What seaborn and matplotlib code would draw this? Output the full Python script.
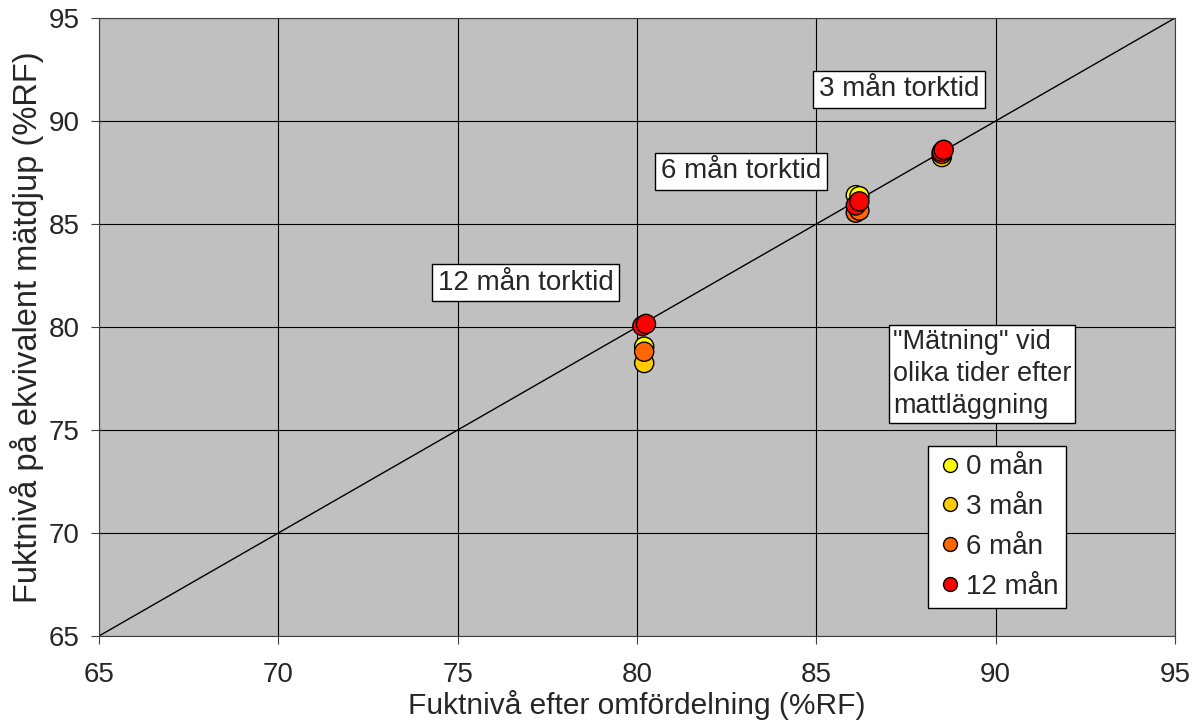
import numpy as np
import pandas as pd
import matplotlib.pyplot as plt
import seaborn as sns

# ============================================================
# DATA
# ============================================================
series_names = ['0 mån', '3 mån', '6 mån', '12 mån']
series_colors = ['#FFFF00', '#FFCC00', '#FF6600', '#FF0000']

x_0 = [80.2, 86.1, 86.2, 88.5]
y_0 = [79.05, 86.4, 86.35, 88.45]
x_3 = [80.2, 86.15, 88.5]
y_3 = [78.25, 86.0, 88.25]
x_6 = [80.2, 86.1, 86.2, 88.5]
y_6 = [78.8, 85.55, 85.65, 88.4]
x_12 = [80.15, 80.25, 86.1, 86.2, 88.5, 88.55]
y_12 = [80.05, 80.15, 85.9, 86.1, 88.5, 88.6]

labels = ['3 mån torktid', '6 mån torktid', '12 mån torktid']
label_x = [87.3, 82.9, 76.9]
label_y = [91.55, 87.57, 82.14]

df = pd.concat([
    pd.DataFrame({'x': xs, 'y': ys, 'serie': name})
    for xs, ys, name in zip([x_0, x_3, x_6, x_12], [y_0, y_3, y_6, y_12], series_names)
])

# ============================================================
# PLOT
# ============================================================
sns.set_style('ticks')
plt.rcParams['font.family'] = ['Liberation Sans', 'DejaVu Sans']

fig = plt.figure(figsize=(11.99, 7.26), dpi=100)
ax = fig.add_axes([99 / 1199, 1 - 636 / 726, (1175 - 99) / 1199, (636 - 18) / 726])
ax.set_facecolor('#C0C0C0')

ax.plot([65, 95], [65, 95], color='black', linewidth=1, zorder=2)

sns.scatterplot(data=df, x='x', y='y', hue='serie', hue_order=series_names,
                palette=series_colors, s=190, edgecolor='black', linewidth=1,
                ax=ax, zorder=3, legend=False)

ax.set_xlim(65, 95)
ax.set_ylim(65, 95)
ax.set_xticks(range(65, 96, 5))
ax.set_yticks(range(65, 96, 5))
ax.grid(True, color='black', linewidth=0.8)
ax.set_axisbelow(True)
ax.tick_params(labelsize=20, length=6, direction='out', color='#404040')
ax.tick_params(axis='x', pad=13)
ax.tick_params(axis='y', pad=8)
for s in ax.spines.values():
    s.set_color('#404040')

ax.set_xlabel('Fuktnivå efter omfördelning (%RF)', fontsize=21.5, labelpad=1)
ax.set_ylabel('Fuktnivå på ekvivalent mätdjup (%RF)', fontsize=23.5, labelpad=3)

box = dict(boxstyle='square,pad=0.2', facecolor='white', edgecolor='black', linewidth=1)
for t, lx, ly in zip(labels, label_x, label_y):
    ax.text(lx, ly, t, fontsize=20, ha='center', va='center', bbox=box, zorder=5)

ax.text(89.62, 77.72, '"Mätning" vid\nolika tider efter\nmattläggning', fontsize=19.5,
        ha='center', va='center', multialignment='left', linespacing=1.3,
        bbox=dict(boxstyle='square,pad=0.15', facecolor='white', edgecolor='black', linewidth=1),
        zorder=5)

handles = [plt.Line2D([], [], marker='o', linestyle='', markersize=10,
                      markerfacecolor=c, markeredgecolor='black') for c in series_colors]
leg = ax.legend(handles, series_names, loc='upper left',
                bbox_to_anchor=((928 - 99) / 1076, 1 - (446 - 18) / 618),
                fontsize=20, frameon=True, fancybox=False, framealpha=1,
                edgecolor='black', handletextpad=0.05, handlelength=1.0,
                labelspacing=0.5, borderpad=0.3, borderaxespad=0)
leg.get_frame().set_linewidth(1)

fig.savefig('out.png', dpi=100)
